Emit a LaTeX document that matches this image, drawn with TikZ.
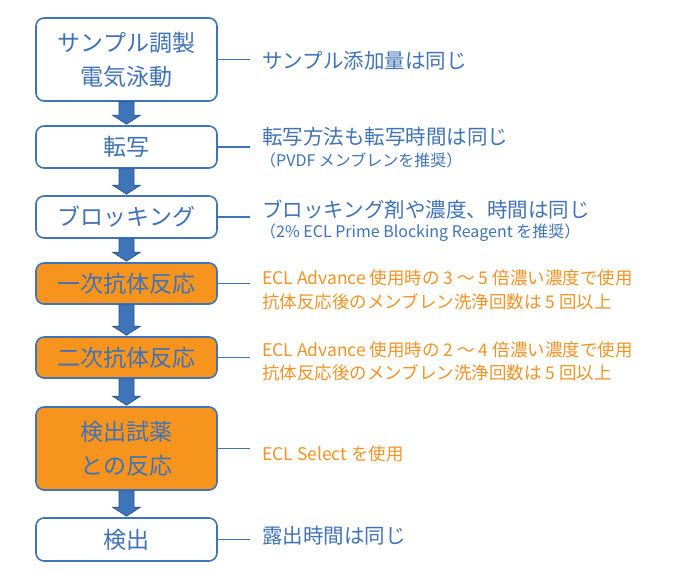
\documentclass[tikz,border=0pt]{standalone}
\usepackage{fontspec}
\setmainfont{Noto Sans CJK JP}
\usetikzlibrary{calc}
\definecolor{bline}{HTML}{3E75BA}
\definecolor{btext}{HTML}{3F72B8}
\definecolor{ofill}{HTML}{F7941D}
\definecolor{otext}{HTML}{F39325}
\definecolor{adark}{HTML}{2B4F82}
\tikzset{
  stepbox/.style={draw=bline, line width=1.6pt, rounded corners=8pt, fill=white,
    minimum width=181pt, text=btext, font=\fontsize{23}{34}\selectfont, align=center, inner sep=0pt},
  hot/.style={fill=ofill},
  note/.style={anchor=west, inner sep=0pt, text=btext, font=\fontsize{20.5}{24}\selectfont},
  subnote/.style={anchor=west, inner sep=0pt, text=btext, font=\fontsize{16}{20}\selectfont},
  onote/.style={anchor=west, inner sep=0pt, text=otext, font=\fontsize{17.5}{24}\selectfont},
  conn/.style={draw=bline, line width=1.5pt},
  barrow/.style={fill=bline, draw=adark, line width=0.6pt},
}
\newcommand{\blockarrow}[2]{%
  \path[barrow] let \p1=(#1.south), \p2=(#2.north) in
    (\x1-7.5pt,\y1) -- (\x1-7.5pt,\y2+10pt) -- (\x1-14pt,\y2+10pt) -- (\x1,\y2+1pt)
    -- (\x1+14pt,\y2+10pt) -- (\x1+7.5pt,\y2+10pt) -- (\x1+7.5pt,\y1) -- cycle;}
\begin{document}
\begin{tikzpicture}[x=1pt,y=-1pt]
\useasboundingbox (0,0) rectangle (680,575);
% boxes
\node[stepbox, minimum height=83pt] (b1) at (126.5,59.5) {サンプル調製\\電気泳動};
\node[stepbox, minimum height=42pt] (b2) at (126.5,147) {転写};
\node[stepbox, minimum height=42pt] (b3) at (126.5,217) {ブロッキング};
\node[stepbox, hot, minimum height=41pt] (b4) at (126.5,283.5) {一次抗体反応};
\node[stepbox, hot, minimum height=41pt] (b5) at (126.5,357.5) {二次抗体反応};
\node[stepbox, hot, minimum height=83pt] (b6) at (126.5,448.5) {検出試薬\\との反応};
\node[stepbox, minimum height=43pt] (b7) at (126.5,539.5) {検出};
% arrows
\blockarrow{b1}{b2}
\blockarrow{b2}{b3}
\blockarrow{b3}{b4}
\blockarrow{b4}{b5}
\blockarrow{b5}{b6}
\blockarrow{b6}{b7}
% connectors
\foreach \b in {b1,b2,b3,b4,b5,b6,b7}{
  \coordinate (\b c) at ($(\b.east)+(32,0)$);
  \draw[conn] (\b.east) -- (\b c);
}
% notes
\node[note] (t1) at (262,61) {サンプル添加量は同じ};
\node[note] (t2a) at (262,137) {転写方法も転写時間は同じ};
\node[subnote] (t2b) at (260,160) {（PVDF メンブレンを推奨）};
\node[note] (t3a) at (262,210) {ブロッキング剤や濃度、時間は同じ};
\node[subnote] (t3b) at (260,233) {（2\% ECL Prime Blocking Reagent を推奨）};
\node[onote] (t4a) at (262,278) {ECL Advance 使用時の 3 ～ 5 倍濃い濃度で使用};
\node[onote] (t4b) at (262,302) {抗体反応後のメンブレン洗浄回数は 5 回以上};
\node[onote] (t5a) at (262,350) {ECL Advance 使用時の 2 ～ 4 倍濃い濃度で使用};
\node[onote] (t5b) at (262,373) {抗体反応後のメンブレン洗浄回数は 5 回以上};
\node[onote] (t6) at (262,454) {ECL Select を使用};
\node[note] (t7) at (262,536) {露出時間は同じ};
\end{tikzpicture}
\end{document}
